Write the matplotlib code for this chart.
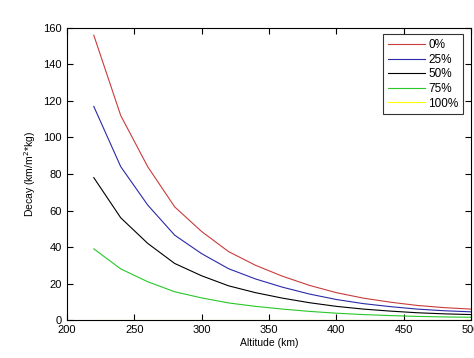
import matplotlib
matplotlib.use("Agg")
import matplotlib.pyplot as plt
import numpy as np

plt.rcParams['font.family'] = ['Liberation Sans', 'DejaVu Sans']

altitude = [220, 240, 260, 280, 300, 320, 340, 360, 380, 400, 420, 440, 460, 480, 500]
decay_0 = [156, 112, 84, 62, 48.5, 37.5, 30, 24, 19, 15, 12, 9.8, 8, 6.8, 6]
fractions = [0.0, 0.25, 0.50, 0.75, 1.00]
labels = ['0%', '25%', '50%', '75%', '100%']
colors = ['#c83c3c', '#2a2aa8', '#000000', '#28c828', '#ffff00']

fig = plt.figure(figsize=(4.74, 3.58), dpi=100)
ax = fig.add_axes([0.141, 0.106, 0.853, 0.816])

for f, lab, c in zip(fractions, labels, colors):
    vals = [v * (1 - f) for v in decay_0]
    ax.plot(altitude, vals, color=c, lw=0.8, label=lab)

ax.set_xlim(200, 500)
ax.set_ylim(0, 160)
ax.set_xticks(range(200, 501, 50))
ax.set_yticks(range(0, 161, 20))
ax.tick_params(direction='in', top=True, right=True, labelsize=8, length=4, width=0.8)
for s in ax.spines.values():
    s.set_linewidth(0.8)
ax.set_xlabel('Altitude (km)', fontsize=7.5, labelpad=2)
ax.set_ylabel('Decay (km/m$^2$*kg)', fontsize=7.5, labelpad=4)
leg = ax.legend(loc='upper right', fontsize=8.5, frameon=True, fancybox=False,
                edgecolor='black', handlelength=3.1, labelspacing=0.22,
                borderpad=0.4, handletextpad=0.3, bbox_to_anchor=(0.995, 0.998))
leg.get_frame().set_linewidth(0.8)

fig.savefig('out.png', dpi=100)
